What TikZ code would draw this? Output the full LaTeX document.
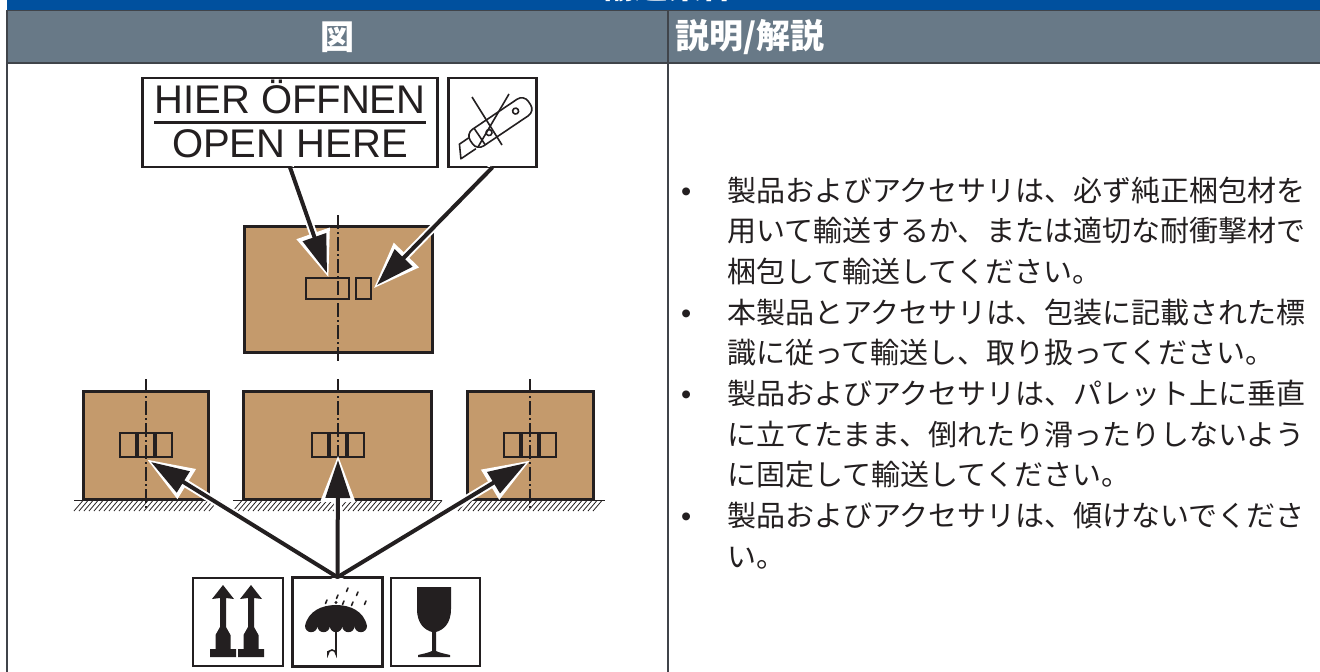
\documentclass[tikz,border=0pt]{standalone}
\usepackage{fontspec}
\setmainfont{Liberation Sans}
\newfontfamily\jpfont{Noto Sans CJK JP}
\usetikzlibrary{arrows.meta}

\definecolor{hdrblue}{RGB}{0,80,158}
\definecolor{hdrgray}{RGB}{104,121,135}
\definecolor{rulegray}{RGB}{64,68,74}
\definecolor{carton}{RGB}{196,154,108}
\definecolor{ink}{RGB}{35,31,32}

\begin{document}
\begin{tikzpicture}[x=1pt,y=-1pt,
  cartonbox/.style={fill=carton, draw=ink, line width=3pt},
  tapebox/.style={draw=ink, line width=2.4pt},
  framebox/.style={draw=ink, line width=1.6pt, fill=white, inner sep=0pt},
  axisline/.style={draw=ink, line width=1.8pt, dash pattern=on 14pt off 3pt on 2pt off 3pt},
  groundline/.style={draw=ink, line width=1pt},
  halo/.style={white, line width=8pt, -{Triangle[length=47pt,width=33pt]}, shorten >=-5pt},
  pointer/.style={ink, line width=4pt, -{Triangle[length=38pt,width=24pt]}},
  hdr/.style={font=\jpfont\bfseries\fontsize{34}{38}\selectfont, text=white, inner sep=0pt},
  jtext/.style={font=\jpfont\fontsize{29}{34}\selectfont, anchor=base west, inner sep=0pt, text=ink},
  bullet/.style={font=\fontsize{29}{34}\selectfont, anchor=base west, inner sep=0pt, text=ink},
  signtext/.style={font=\fontsize{40}{40}\selectfont, anchor=base, inner sep=0pt, text=ink},
]
\useasboundingbox (0,0) rectangle (1320,672);

% ---------- table header ----------
\fill[hdrblue] (7,0) rectangle (1320,10);
\begin{scope}
  \clip (7,0) rectangle (1320,10);
  \node[hdr, anchor=base] (title) at (668,-2) {輸送条件};
\end{scope}
\fill[hdrgray] (7,10) rectangle (1320,62);
\draw[rulegray, line width=1.4pt] (7,10.5) -- (1320,10.5);
\draw[rulegray, line width=2pt] (7,62.5) -- (1320,62.5);
\draw[rulegray, line width=1.4pt] (7,10) -- (7,672);
\draw[rulegray, line width=1.2pt] (668,10) -- (668,672);
\node[hdr] (hfig) at (337,37) {図};
\node[hdr, anchor=west] (hdesc) at (675,37) {説明/解説};

% ---------- cartons ----------
\draw[cartonbox] (244,226) rectangle (432,352);
\draw[tapebox] (306,278) rectangle (349,299);
\draw[tapebox] (356,278) rectangle (371,299);
\draw[axisline] (338,215) -- (338,361);

\foreach \xl/\xr/\xc/\ga/\gb in {83/208/146/74/221, 243/431/338/233/442, 467/593/530/458/605}{
  \draw[cartonbox] (\xl,391) rectangle (\xr,499);
  \draw[tapebox] (\xc-26,433) rectangle (\xc-10,457);
  \draw[tapebox] (\xc-8,433) rectangle (\xc+8,457);
  \draw[tapebox] (\xc+10,433) rectangle (\xc+26,457);
  \draw[axisline] (\xc,379) -- (\xc,509);
  \draw[groundline] (\ga,500) -- (\gb,500);
  \pgfmathtruncatemacro{\nh}{(\gb-\ga-9)/5}
  \foreach \i in {0,...,\nh}
    \draw[ink, line width=0.8pt] (\ga+5*\i,511) -- (\ga+5*\i+9,500.5);
}

% ---------- sign frames ----------
\node[framebox, minimum width=294pt, minimum height=88pt] (openhere) at (290,122.5) {};
\node[framebox, minimum width=87pt, minimum height=88pt] (knife) at (492.5,122.5) {};
\node[framebox, minimum width=90pt, minimum height=88pt] (upright) at (238,622) {};
\node[framebox, minimum width=89pt, minimum height=88pt] (umbrella) at (337.5,622) {};
\node[framebox, minimum width=89pt, minimum height=88pt] (glass) at (435.5,622) {};

% ---------- pointers ----------
\coordinate (tipA) at (327,273);
\coordinate (tipB) at (377,285);
\coordinate (tipL) at (151,462);
\coordinate (tipM) at (338,460);
\coordinate (tipR) at (526,463);
\draw[halo] (openhere.south) -- (tipA);
\draw[halo] (knife.south) -- (tipB);
\draw[halo] (umbrella.north) -- (tipL);
\draw[halo] (umbrella.north) -- (tipM);
\draw[halo] (umbrella.north) -- (tipR);
\draw[pointer] (openhere.south) -- (tipA);
\draw[pointer] (knife.south) -- (tipB);
\draw[pointer] (umbrella.north) -- (tipL);
\draw[pointer] (umbrella.north) -- (tipM);
\draw[pointer] (umbrella.north) -- (tipR);
% frame edges drawn again over the pointer starts
\draw[ink, line width=1.6pt] (openhere.south west) rectangle (openhere.north east);
\draw[ink, line width=1.6pt] (knife.south west) rectangle (knife.north east);
\draw[ink, line width=1.6pt] (umbrella.south west) rectangle (umbrella.north east);

% ---------- "open here" sign ----------
\node[signtext] (hier) at (290,113) {HIER ÖFFNEN};
\draw[ink, line width=3pt] (154,122) -- (426,122);
\node[signtext] (openen) at (290,157) {OPEN HERE};

% ---------- no-knife sign ----------
\begin{scope}[shift={(457,153)}, rotate=34, ink, line width=1.6pt, line join=round]
  \draw (18,-6) -- (7,-6) -- (0,7) -- (18,7);
  \draw[rounded corners=8pt] (18,-11) -- (88,-11) -- (88,9) -- (18,9) -- cycle;
  \draw (28,-11) -- (28,9);
  \draw (38,1) circle[radius=3];
  \draw (72,-2) circle[radius=3];
\end{scope}
\draw[ink, line width=1.6pt] (472,97) -- (502,145);
\draw[ink, line width=1.6pt] (478,147) -- (509,94);

% ---------- this-way-up sign ----------
\foreach \cx in {223,251}{
  \fill[ink] (\cx,585) -- (\cx+11,599) -- (\cx+3,598) -- (\cx+3,627) -- (\cx+7.5,635)
    -- (\cx+7.5,649) -- (\cx+13,649) -- (\cx+13,657) -- (\cx-13,657) -- (\cx-13,649)
    -- (\cx-7.5,649) -- (\cx-7.5,635) -- (\cx-3,627) -- (\cx-3,598) -- (\cx-11,599) -- cycle;
}

% ---------- keep-dry sign ----------
\fill[ink] (305,626) .. controls (308,611) and (322,605) .. (336,605)
  .. controls (350,605) and (364,611) .. (367,626)
  arc[start angle=0, end angle=180, radius=6.2]
  arc[start angle=0, end angle=180, radius=6.2]
  arc[start angle=0, end angle=180, radius=6.2]
  arc[start angle=0, end angle=180, radius=6.2]
  arc[start angle=0, end angle=180, radius=6.2] -- cycle;
\fill[ink] (336,602.5) circle[radius=1.6];
\draw[ink, line width=1.6pt] (336,622) -- (336,654) arc[start angle=0, end angle=-180, radius=4] -- (328,651);
\foreach \dx/\dy in {326/602, 337/597, 347/590, 357/594, 343/603, 352/604, 365/603}
  \draw[ink, line width=1.6pt, line cap=round] (\dx+1,\dy-2) -- (\dx-0.5,\dy+1.5);

% ---------- fragile sign ----------
\fill[ink] (417,587) -- (451,587) -- (451,609) .. controls (451,624) and (443,630) .. (436,632)
  -- (436,651) .. controls (440,653) and (446,654) .. (450,655) -- (450,657) -- (418,657)
  -- (418,655) .. controls (422,654) and (428,653) .. (432,651) -- (432,632)
  .. controls (425,630) and (417,624) .. (417,609) -- cycle;

% ---------- description ----------
\foreach \k/\txt in {
  0/製品およびアクセサリは、必ず純正梱包材を,
  1/用いて輸送するか、または適切な耐衝撃材で,
  2/梱包して輸送してください。,
  3/本製品とアクセサリは、包装に記載された標,
  4/識に従って輸送し、取り扱ってください。,
  5/製品およびアクセサリは、パレット上に垂直,
  6/に立てたまま、倒れたり滑ったりしないよう,
  7/に固定して輸送してください。,
  8/製品およびアクセサリは、傾けないでくださ,
  9/い。}{
  \node[jtext] (line\k) at (727,{201+40.7*\k}) {\txt};
}
\foreach \k in {0,3,5,8}
  \node[bullet] (dot\k) at (681,{201+40.7*\k}) {•};
\end{tikzpicture}
\end{document}
